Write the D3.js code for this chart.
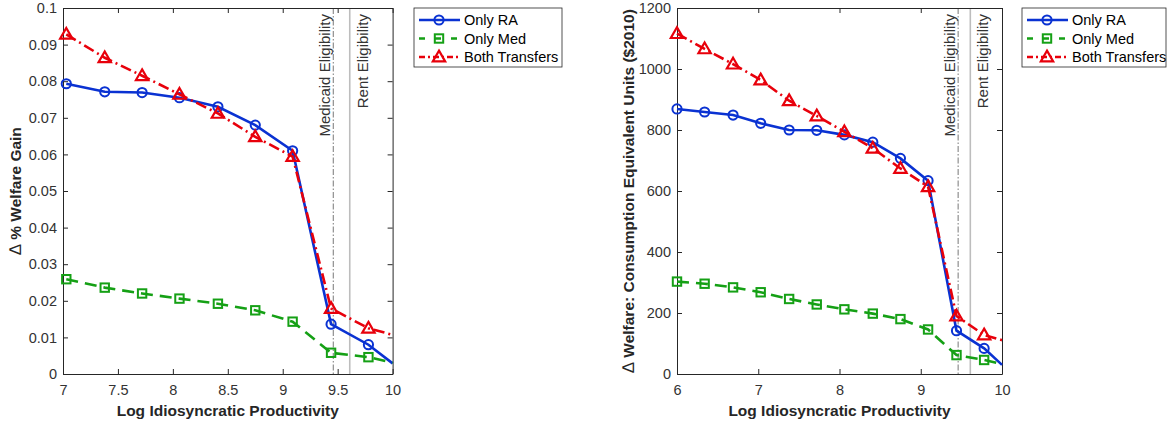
<!DOCTYPE html>
<html>
<head>
<meta charset="utf-8">
<script src="https://cdn.jsdelivr.net/npm/d3@7.9.0/dist/d3.min.js"></script>
<style>
  body { margin: 0; background: #fff; }
  svg { display: block; font-family: "Liberation Sans", Arial, sans-serif; }
</style>
</head>
<body>
<svg id="chart" width="1169" height="426"></svg>
<script>
// Data
const xLeft = [7.03, 7.38, 7.72, 8.06, 8.41, 8.75, 9.09, 9.44, 9.78, 10.0];
const leftRA   = [0.0793, 0.0771, 0.0769, 0.0755, 0.0730, 0.0680, 0.0610, 0.0136, 0.0080, 0.0029];
const leftMed  = [0.0259, 0.0236, 0.0220, 0.0206, 0.0192, 0.0174, 0.0143, 0.0058, 0.0046, 0.0031];
const leftBoth = [0.0928, 0.0864, 0.0815, 0.0764, 0.0712, 0.0648, 0.0594, 0.0179, 0.0125, 0.0107];

const xRight = [6.0, 6.34, 6.69, 7.03, 7.38, 7.72, 8.06, 8.41, 8.75, 9.09, 9.44, 9.78, 10.0];
const rightRA   = [869, 859, 849, 822, 800, 799, 784, 760, 707, 634, 142, 84, 30];
const rightMed  = [303, 296, 284, 268, 246, 228, 212, 198, 180, 146, 62, 46, 33];
const rightBoth = [1116, 1066, 1016, 964, 896, 846, 794, 740, 674, 614, 190, 128, 111];

const leftYTicks = [0, 0.01, 0.02, 0.03, 0.04, 0.05, 0.06, 0.07, 0.08, 0.09, 0.1];
const leftXTicks = [7, 7.5, 8, 8.5, 9, 9.5, 10];
const rightYTicks = [0, 200, 400, 600, 800, 1000, 1200];
const rightXTicks = [6, 7, 8, 9, 10];

const seriesNames = ["Only RA", "Only Med", "Both Transfers"];
const medicaidLine = 9.46;
const rentLine = 9.61;

const styles = [
  { color: "#0a32d2", dash: null, marker: "circle" },
  { color: "#15a015", dash: "12,7", marker: "square" },
  { color: "#e8000b", dash: "11,4,2,4", marker: "triangle" }
];

const svg = d3.select("#chart");
const axisColor = "#262626";

function drawMarker(g, type, x, y, color) {
  if (type === "circle") {
    g.append("circle").attr("cx", x).attr("cy", y).attr("r", 4.6)
      .attr("fill", "none").attr("stroke", color).attr("stroke-width", 2);
  } else if (type === "square") {
    g.append("rect").attr("x", x - 4.2).attr("y", y - 4.2).attr("width", 8.4).attr("height", 8.4)
      .attr("fill", "none").attr("stroke", color).attr("stroke-width", 2);
  } else {
    const s = d3.symbol().type(d3.symbolTriangle).size(66);
    g.append("path").attr("d", s()).attr("transform", `translate(${x},${y + 0.8})`)
      .attr("fill", "none").attr("stroke", color).attr("stroke-width", 2.2);
  }
}

function panel(opts) {
  const { x0, x1, y0, y1, xDomain, yDomain, xTicks, yTicks, xs, series, yLabel, yFmt, yLabelX, legendX, legendW } = opts;
  const x = d3.scaleLinear().domain(xDomain).range([x0, x1]);
  const y = d3.scaleLinear().domain(yDomain).range([y1, y0]);
  const g = svg.append("g");

  // reference lines
  g.append("line").attr("x1", x(medicaidLine)).attr("x2", x(medicaidLine))
    .attr("y1", y0).attr("y2", y1).attr("stroke", "#555").attr("stroke-width", 0.8)
    .attr("stroke-dasharray", "6,2,1.5,2");
  g.append("line").attr("x1", x(rentLine)).attr("x2", x(rentLine))
    .attr("y1", y0).attr("y2", y1).attr("stroke", "#bdbdbd").attr("stroke-width", 1.6);
  g.append("text").attr("transform", `translate(${x(medicaidLine) - 3},${y0 + 6}) rotate(-90)`)
    .attr("text-anchor", "end").attr("font-size", 15).attr("fill", "#333").text("Medicaid Eligibility");
  g.append("text").attr("transform", `translate(${x(rentLine) + 18},${y0 + 6}) rotate(-90)`)
    .attr("text-anchor", "end").attr("font-size", 15).attr("fill", "#333").text("Rent Eligibility");

  // axes (box with inward ticks)
  const axB = g.append("g").attr("transform", `translate(0,${y1})`)
    .call(d3.axisBottom(x).tickValues(xTicks).tickSizeInner(-5).tickSizeOuter(0).tickPadding(11).tickFormat(d3.format("")));
  const axT = g.append("g").attr("transform", `translate(0,${y0})`)
    .call(d3.axisTop(x).tickValues(xTicks).tickSizeInner(-5).tickSizeOuter(0).tickFormat(""));
  const axL = g.append("g").attr("transform", `translate(${x0},0)`)
    .call(d3.axisLeft(y).tickValues(yTicks).tickSizeInner(-5).tickSizeOuter(0).tickPadding(6).tickFormat(yFmt));
  const axR = g.append("g").attr("transform", `translate(${x1},0)`)
    .call(d3.axisRight(y).tickValues(yTicks).tickSizeInner(-5).tickSizeOuter(0).tickFormat(""));
  [axB, axT, axL, axR].forEach(a => {
    a.selectAll("path").attr("stroke", axisColor).attr("stroke-width", 1);
    a.selectAll("line").attr("stroke", axisColor).attr("stroke-width", 1);
    a.selectAll("text").attr("fill", "#333").attr("font-size", 14.5).attr("font-family", "Liberation Sans, Arial, sans-serif");
  });

  // series
  series.forEach((vals, i) => {
    const st = styles[i];
    const pts = xs.map((xv, j) => [x(xv), y(vals[j])]);
    g.append("path").attr("d", d3.line()(pts)).attr("fill", "none")
      .attr("stroke", st.color).attr("stroke-width", 2.6)
      .attr("stroke-dasharray", st.dash);
    const mg = g.append("g");
    pts.slice(0, pts.length - 1).forEach(p => drawMarker(mg, st.marker, p[0], p[1], st.color));
  });

  // labels
  g.append("text").attr("x", (x0 + x1) / 2).attr("y", 416).attr("text-anchor", "middle")
    .attr("font-size", 15.5).attr("font-weight", "bold").attr("fill", axisColor)
    .text("Log Idiosyncratic Productivity");
  const yl = g.append("text").attr("transform", `translate(${yLabelX},${(y0 + y1) / 2}) rotate(-90)`)
    .attr("text-anchor", "middle").attr("font-size", 15.5).attr("font-weight", "bold").attr("fill", axisColor);
  yl.append("tspan").attr("font-weight", "normal").attr("font-size", 17).text("\u2206 ");
  yl.append("tspan").text(yLabel);

  // legend
  const lg = g.append("g").attr("transform", `translate(${legendX},8)`);
  lg.append("rect").attr("width", legendW).attr("height", 59).attr("fill", "#fff")
    .attr("stroke", axisColor).attr("stroke-width", 0.8);
  seriesNames.forEach((name, i) => {
    const st = styles[i];
    const ry = 12 + i * 18.5;
    lg.append("line").attr("x1", 5).attr("x2", 46).attr("y1", ry).attr("y2", ry)
      .attr("stroke", st.color).attr("stroke-width", 2.6)
      .attr("stroke-dasharray", i === 1 ? "6,10" : (i === 2 ? "6,3,2,3" : null));
    drawMarker(lg, st.marker, 25, ry, st.color);
    lg.append("text").attr("x", 50).attr("y", ry + 5).attr("font-size", 14.5).attr("fill", "#000").text(name);
  });
}

panel({
  x0: 63, x1: 392.6, y0: 8, y1: 374,
  xDomain: [7, 10], yDomain: [0, 0.1],
  xTicks: leftXTicks, yTicks: leftYTicks, xs: xLeft,
  series: [leftRA, leftMed, leftBoth],
  yLabel: "% Welfare Gain", yFmt: d3.format(""), yLabelX: 21,
  legendX: 414, legendW: 148
});

panel({
  x0: 677, x1: 1002, y0: 8, y1: 374,
  xDomain: [6, 10], yDomain: [0, 1200],
  xTicks: rightXTicks, yTicks: rightYTicks, xs: xRight,
  series: [rightRA, rightMed, rightBoth],
  yLabel: "Welfare: Consumption Equivalent Units ($2010)", yFmt: d3.format("d"), yLabelX: 634,
  legendX: 1022, legendW: 144
});
</script>
</body>
</html>
